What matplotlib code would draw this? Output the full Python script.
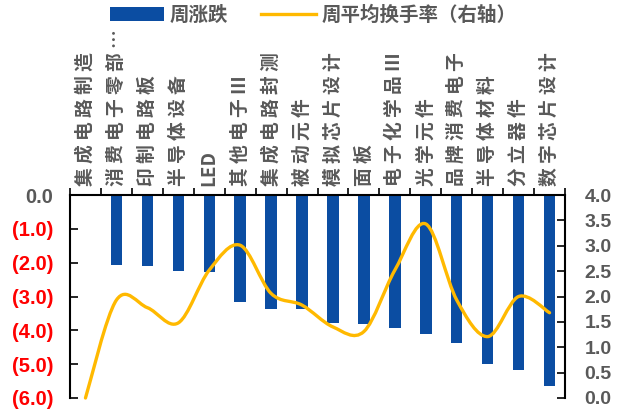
import matplotlib
matplotlib.use('Agg')
import matplotlib.pyplot as plt
from matplotlib.path import Path
from matplotlib.patches import PathPatch
from matplotlib.lines import Line2D
from matplotlib.patches import Patch
from matplotlib.ticker import FixedLocator

plt.rcParams['font.family'] = ['Noto Sans CJK SC', 'DejaVu Sans']

categories = ['集成电路制造', '消费电子零部…', '印制电路板', '半导体设备', 'LED',
              '其他电子Ⅲ', '集成电路封测', '被动元件', '模拟芯片设计', '面板',
              '电子化学品Ⅲ', '光学元件', '品牌消费电子', '半导体材料', '分立器件',
              '数字芯片设计']
weekly_change = [0.0, -2.07, -2.10, -2.25, -2.29, -3.15, -3.36, -3.37, -3.78, -3.82,
                 -3.93, -4.12, -4.37, -4.99, -5.17, -5.66]
turnover = [0.0, 1.93, 1.78, 1.48, 2.52, 3.01, 2.06, 1.83, 1.40, 1.31,
            2.52, 3.43, 1.93, 1.21, 2.0, 1.68]
left_ticks = [0, -1, -2, -3, -4, -5, -6]
right_ticks = [0, 0.5, 1, 1.5, 2, 2.5, 3, 3.5, 4]

BAR_COLOR = '#0B4DA2'
LINE_COLOR = '#FFB900'
GRAY = '#595959'
NUM_FONT = 'Liberation Sans'


def smooth_path(xs, ys):
    # excel-style smoothed line: cubic bezier with catmull-rom control points
    pts = list(zip(xs, ys))
    n = len(pts)
    verts = [pts[0]]
    codes = [Path.MOVETO]
    for i in range(n - 1):
        p0 = pts[max(i - 1, 0)]
        p1 = pts[i]
        p2 = pts[i + 1]
        p3 = pts[min(i + 2, n - 1)]
        c1 = (p1[0] + (p2[0] - p0[0]) / 6, p1[1] + (p2[1] - p0[1]) / 6)
        c2 = (p2[0] - (p3[0] - p1[0]) / 6, p2[1] - (p3[1] - p1[1]) / 6)
        verts += [c1, c2, p2]
        codes += [Path.CURVE4] * 3
    return Path(verts, codes)


def spaced(name):
    # the source chart has loose letter spacing for chinese labels
    if name.isascii():
        return name
    return ' '.join(name)


fig = plt.figure(figsize=(6.19, 4.16), dpi=100)
ax = fig.add_axes([0.1131, 0.0433, 0.7997, 0.4879])
ax2 = ax.twinx()

x = list(range(len(categories)))
ax.bar(x, weekly_change, width=0.37, color=BAR_COLOR, zorder=2)
ax.set_xlim(-0.5, len(categories) - 0.5)
ax.set_ylim(-6, 0)

ax2.set_ylim(0, 4)
ax2.add_patch(PathPatch(smooth_path(x, turnover), facecolor='none',
                        edgecolor=LINE_COLOR, lw=2.4, capstyle='round', zorder=3,
                        clip_on=False))

# zero axis at top with category boundary ticks
ax.xaxis.set_ticks_position('top')
ax.set_xticks(x)
ax.set_xticklabels([])
ax.xaxis.set_minor_locator(FixedLocator([i - 0.5 for i in range(len(categories) + 1)]))
ax.tick_params(axis='x', which='major', length=0)
ax.tick_params(axis='x', which='minor', direction='out', length=5, width=1.2, color='black')

for i, name in enumerate(categories):
    ax.text(i, 1.045, spaced(name), transform=ax.get_xaxis_transform(), rotation=90,
            ha='center', va='bottom', fontsize=13.5, color=GRAY, fontweight='bold')

ax.spines['bottom'].set_visible(False)
ax.spines['right'].set_visible(False)
ax.spines['top'].set_linewidth(1.5)
ax.spines['left'].set_linewidth(1.5)
ax2.spines['top'].set_visible(False)
ax2.spines['bottom'].set_visible(False)
ax2.spines['left'].set_visible(False)
ax2.spines['right'].set_linewidth(1.5)

ax.set_yticks(left_ticks)
ax.set_yticklabels(['0.0' if v == 0 else '(%.1f)' % abs(v) for v in left_ticks],
                   fontfamily=NUM_FONT, fontweight='bold', fontsize=14.5)
for lbl, v in zip(ax.get_yticklabels(), left_ticks):
    lbl.set_color(GRAY if v == 0 else '#FF0000')
ax.tick_params(axis='y', direction='in', length=6, width=1.2, pad=12)

ax2.set_yticks(right_ticks)
ax2.set_yticklabels(['%.1f' % v for v in right_ticks], fontfamily=NUM_FONT,
                    fontweight='bold', fontsize=14, color=GRAY)
ax2.tick_params(axis='y', direction='in', length=6, width=1.2, pad=14)

handles = [Patch(facecolor=BAR_COLOR, label='周涨跌'),
           Line2D([0], [0], color=LINE_COLOR, lw=2.4, label='周平均换手率（右轴）')]
leg = fig.legend(handles=handles, loc='center', bbox_to_anchor=(0.506, 0.964), ncol=2,
                 frameon=False, handlelength=2.8, handleheight=0.8, handletextpad=0.3,
                 columnspacing=1.7, prop={'size': 14, 'weight': 'bold'})
for t in leg.get_texts():
    t.set_color(GRAY)

fig.savefig('out.png', dpi=100)
